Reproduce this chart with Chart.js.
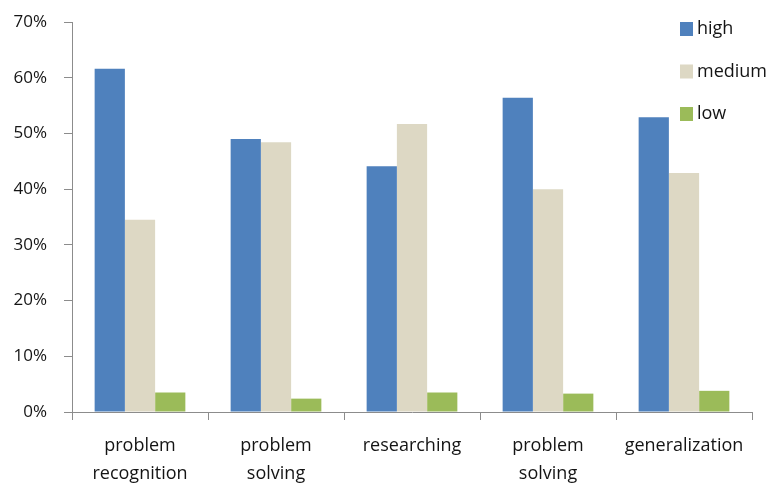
<!DOCTYPE html>
<html>
<head>
<meta charset="utf-8">
<script src="https://cdn.jsdelivr.net/npm/chart.js@4.4.0/dist/chart.umd.min.js"></script>
<style>
  html, body { margin: 0; padding: 0; background: #ffffff; }
  #wrap { width: 771px; height: 483px; position: relative; }
</style>
</head>
<body>
<div id="wrap"><canvas id="chart" width="771" height="483"></canvas></div>
<script>
// Stages of the activity
const categories = [
  ['problem', 'recognition'],
  ['problem', 'solving'],
  ['researching'],
  ['problem', 'solving'],
  ['generalization']
];

// Share of students at each level, in percent
const highValues   = [61.6, 49.0, 44.1, 56.4, 52.9];
const mediumValues = [34.5, 48.4, 51.7, 40.0, 42.9];
const lowValues    = [3.5, 2.4, 3.5, 3.3, 3.8];

const seriesNames  = ['high', 'medium', 'low'];
const yTicks       = [0, 10, 20, 30, 40, 50, 60, 70];

const FONT = '"Open Sans", Lato, "DejaVu Sans", sans-serif';
const AXIS_GREY = '#8c8c8c';
const TEXT = '#141414';

// Vertical legend placed inside the plot, top right
const sideLegend = {
  id: 'sideLegend',
  afterDraw(chart) {
    const ctx = chart.ctx;
    ctx.save();
    ctx.font = '18px ' + FONT;
    ctx.textBaseline = 'middle';
    ctx.textAlign = 'left';
    chart.data.datasets.forEach((ds, i) => {
      const cy = 29 + i * 42.5;
      ctx.fillStyle = ds.backgroundColor;
      ctx.fillRect(680, cy - 7, 13, 14);
      ctx.fillStyle = TEXT;
      ctx.fillText(ds.label, 697, cy);
    });
    ctx.restore();
  }
};

new Chart(document.getElementById('chart'), {
  type: 'bar',
  data: {
    labels: categories,
    datasets: [
      { label: seriesNames[0], data: highValues,   backgroundColor: '#4f81bd' },
      { label: seriesNames[1], data: mediumValues, backgroundColor: '#ddd8c4' },
      { label: seriesNames[2], data: lowValues,    backgroundColor: '#9bbb59' }
    ]
  },
  options: {
    responsive: false,
    animation: false,
    devicePixelRatio: 1,
    layout: { padding: { left: 0, right: 19, top: 22, bottom: 0 } },
    datasets: {
      bar: { categoryPercentage: 0.667, barPercentage: 1.0, borderWidth: 0 }
    },
    plugins: {
      legend: { display: false },
      tooltip: { enabled: false }
    },
    scales: {
      x: {
        grid: {
          display: true,
          offset: true,
          drawOnChartArea: false,
          drawTicks: true,
          tickLength: 8,
          color: AXIS_GREY,
          lineWidth: 1
        },
        border: { display: true, color: AXIS_GREY, width: 1 },
        ticks: {
          color: TEXT,
          font: { family: FONT, size: 18, lineHeight: 1.55 },
          padding: 12,
          maxRotation: 0,
          autoSkip: false
        },
        afterFit(scale) {
          scale.height = 71;
          scale.paddingLeft = 0;
          scale.paddingRight = 0;
        }
      },
      y: {
        min: 0,
        max: 70,
        afterBuildTicks(scale) { scale.ticks = yTicks.map(v => ({ value: v })); },
        grid: {
          display: true,
          drawOnChartArea: false,
          drawTicks: true,
          tickLength: 8,
          color: AXIS_GREY,
          lineWidth: 1
        },
        border: { display: true, color: AXIS_GREY, width: 1 },
        ticks: {
          color: TEXT,
          font: { family: FONT, size: 17 },
          padding: 17,
          callback: v => v + '%'
        },
        afterFit(scale) {
          scale.width = 72;
          scale.paddingTop = 0;
          scale.paddingBottom = 0;
        }
      }
    }
  },
  plugins: [sideLegend]
});
</script>
</body>
</html>
